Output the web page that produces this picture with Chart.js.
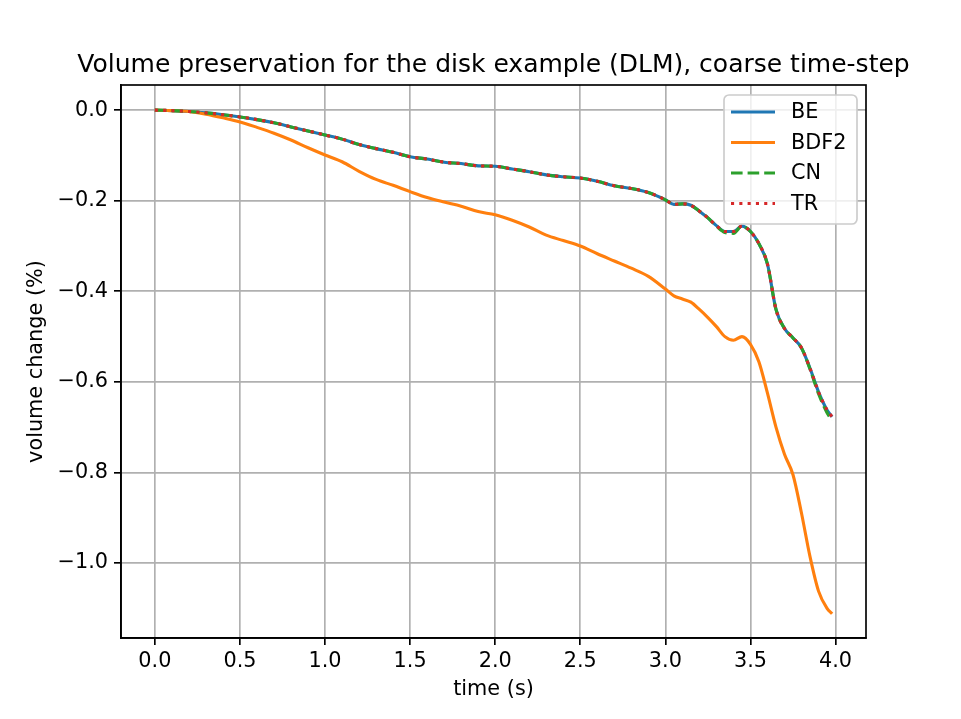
<!DOCTYPE html>
<html>
<head>
<meta charset="utf-8">
<script src="https://cdn.jsdelivr.net/npm/chart.js@4/dist/chart.umd.min.js"></script>
<style>
  body { margin: 0; background: #fff; }
  #wrap { width: 961px; height: 719px; }
</style>
</head>
<body>
<div id="wrap"><canvas id="volChart" width="961" height="719"></canvas></div>
<script>
// data
const times = [0, 0.1, 0.2, 0.3, 0.4, 0.5, 0.6, 0.7, 0.8, 0.9, 1.0, 1.1, 1.2, 1.3, 1.4, 1.5, 1.6, 1.7, 1.8, 1.9,
  2.0, 2.1, 2.2, 2.3, 2.4, 2.5, 2.6, 2.7, 2.8, 2.9, 3.0, 3.05, 3.1, 3.15, 3.2, 3.25, 3.3, 3.35, 3.4, 3.45,
  3.5, 3.55, 3.6, 3.65, 3.7, 3.75, 3.8, 3.85, 3.9, 3.95, 3.98];

const beValues = [0, -0.001, -0.003, -0.006, -0.010, -0.015, -0.021, -0.028, -0.037, -0.046, -0.055, -0.064, -0.076, -0.085, -0.093, -0.103, -0.108, -0.115, -0.118, -0.123,
  -0.124, -0.130, -0.136, -0.143, -0.147, -0.150, -0.157, -0.167, -0.173, -0.182, -0.198, -0.208, -0.207, -0.210, -0.223, -0.238, -0.255, -0.268, -0.268, -0.256,
  -0.268, -0.295, -0.340, -0.440, -0.482, -0.503, -0.525, -0.570, -0.622, -0.662, -0.677];

const bdf2Values = [0, -0.001, -0.003, -0.009, -0.017, -0.026, -0.038, -0.051, -0.066, -0.083, -0.099, -0.114, -0.135, -0.153, -0.166, -0.180, -0.193, -0.203, -0.212, -0.224,
  -0.231, -0.243, -0.258, -0.276, -0.288, -0.300, -0.317, -0.333, -0.349, -0.367, -0.395, -0.410, -0.417, -0.424, -0.440, -0.458, -0.478, -0.500, -0.508, -0.500,
  -0.517, -0.556, -0.625, -0.700, -0.760, -0.805, -0.890, -0.986, -1.062, -1.100, -1.112];

const cnValues = [0, -0.001, -0.003, -0.006, -0.010, -0.015, -0.021, -0.028, -0.037, -0.046, -0.055, -0.064, -0.076, -0.085, -0.093, -0.103, -0.108, -0.115, -0.118, -0.123,
  -0.124, -0.130, -0.136, -0.143, -0.147, -0.150, -0.157, -0.167, -0.173, -0.182, -0.198, -0.208, -0.207, -0.210, -0.223, -0.238, -0.256, -0.270, -0.272, -0.256,
  -0.268, -0.295, -0.340, -0.440, -0.482, -0.503, -0.525, -0.572, -0.626, -0.668, -0.685];

const trValues = beValues.slice();

const seriesNames = ["BE", "BDF2", "CN", "TR"];
const xTicks = [0, 0.5, 1.0, 1.5, 2.0, 2.5, 3.0, 3.5, 4.0];
const yTicks = [0, -0.2, -0.4, -0.6, -0.8, -1.0];
const chartTitle = "Volume preservation for the disk example (DLM), coarse time-step";

const FONT = "'DejaVu Sans', sans-serif";
const px = 20.8;

function pts(vals) {
  return times.map((t, i) => ({ x: t, y: vals[i] }));
}

function minus(v, digits) {
  const s = Math.abs(v).toFixed(digits);
  return (v < -1e-9 ? "\u2212" : "") + s;
}

// title over the plot, frame around it, legend box in the upper right
const framePlugin = {
  id: "frame",
  afterDraw(chart) {
    const ctx = chart.ctx;
    const a = chart.chartArea;
    ctx.save();
    ctx.fillStyle = "#000";
    ctx.font = "25px " + FONT;
    ctx.textAlign = "center";
    ctx.textBaseline = "middle";
    ctx.fillText(chartTitle, (a.left + a.right) / 2, 65);

    ctx.strokeStyle = "#000";
    ctx.lineWidth = 1.67;
    ctx.strokeRect(a.left, a.top, a.right - a.left, a.bottom - a.top);

    // legend
    const bx = 724, by = 95, bw = 133, bh = 129, r = 5;
    ctx.fillStyle = "rgba(255,255,255,0.8)";
    ctx.strokeStyle = "#cccccc";
    ctx.lineWidth = 1.67;
    ctx.beginPath();
    ctx.roundRect(bx, by, bw, bh, r);
    ctx.fill();
    ctx.stroke();

    ctx.font = px + "px " + FONT;
    ctx.textBaseline = "middle";
    ctx.textAlign = "left";
    chart.data.datasets.forEach((ds, i) => {
      const y = 112 + i * 30.5;
      ctx.strokeStyle = ds.borderColor;
      ctx.lineWidth = ds.borderWidth;
      ctx.lineCap = "butt";
      ctx.setLineDash(ds.borderDash || []);
      ctx.beginPath();
      ctx.moveTo(731, y);
      ctx.lineTo(775, y);
      ctx.stroke();
      ctx.setLineDash([]);
      ctx.fillStyle = "#000";
      ctx.fillText(ds.label, 791, y + 1);
    });
    ctx.restore();
  }
};

const colors = ["#1f77b4", "#ff7f0e", "#2ca02c", "#d62728"];
const dashes = [[], [], [11.6, 5], [3.1, 5.2]];
const allValues = [beValues, bdf2Values, cnValues, trValues];

const datasets = seriesNames.map((name, i) => ({
  label: name,
  data: pts(allValues[i]),
  borderColor: colors[i],
  borderWidth: 3.1,
  borderDash: dashes[i],
  borderCapStyle: "butt",
  pointRadius: 0,
  cubicInterpolationMode: "monotone",
  fill: false,
  order: 3 - i
}));

const config = {
  type: "line",
  data: { datasets },
  options: {
    responsive: false,
    animation: false,
    layout: { padding: { top: 85, right: 95, left: 0, bottom: 0 } },
    plugins: {
      legend: { display: false },
      tooltip: { enabled: false },
      title: { display: false }
    },
    scales: {
      x: {
        type: "linear",
        min: -0.199,
        max: 4.179,
        afterBuildTicks: s => { s.ticks = xTicks.map(v => ({ value: v })); },
        afterFit: s => { s.height = 81; },
        ticks: {
          color: "#000",
          font: { family: FONT, size: px },
          padding: 4,
          maxRotation: 0,
          autoSkip: false,
          callback: v => minus(v, 1)
        },
        grid: { color: "#b0b0b0", lineWidth: 1.67, tickColor: "#000", tickLength: 7 },
        border: { color: "#000", width: 1.67 },
        title: {
          display: true,
          text: "time (s)",
          color: "#000",
          font: { family: FONT, size: px, lineHeight: 1.2 },
          padding: { top: 0, bottom: 17 }
        }
      },
      y: {
        type: "linear",
        min: -1.1655,
        max: 0.0555,
        afterBuildTicks: s => { s.ticks = yTicks.map(v => ({ value: v })); },
        afterFit: s => { s.width = 121; },
        ticks: {
          color: "#000",
          font: { family: FONT, size: px },
          padding: 6,
          autoSkip: false,
          callback: v => minus(v, 1)
        },
        grid: { color: "#b0b0b0", lineWidth: 1.67, tickColor: "#000", tickLength: 7 },
        border: { color: "#000", width: 1.67 },
        title: {
          display: true,
          text: "volume change (%)",
          color: "#000",
          font: { family: FONT, size: px, lineHeight: 1.2 },
          padding: { top: 24, bottom: 0 }
        }
      }
    }
  },
  plugins: [framePlugin]
};

const myChart = new Chart(document.getElementById("volChart"), config);
</script>
</body>
</html>
